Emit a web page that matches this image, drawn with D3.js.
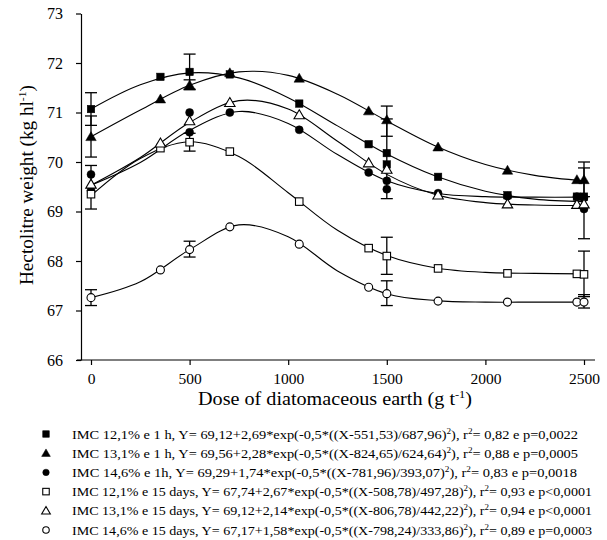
<!DOCTYPE html>
<html>
<head>
<meta charset="utf-8">
<script src="https://cdn.jsdelivr.net/npm/d3@7"></script>
<style>
  body { margin: 0; background: #fff; }
  svg text { font-family: "Liberation Serif", "DejaVu Serif", serif; fill: #000; }
</style>
</head>
<body>
<svg id="chart" width="607" height="540"></svg>
<script>
// fitted curve samples
let curve_x = [0, 250, 500, 750, 1000, 1250, 1500, 1750, 2000, 2250, 2500];
let curve_sq_1h   = [71.07, 71.56, 71.80, 71.70, 71.30, 70.73, 70.16, 69.71, 69.41, 69.25, 69.20];
let curve_tri_1h  = [70.51, 71.05, 71.55, 71.82, 71.75, 71.37, 70.83, 70.32, 69.95, 69.73, 69.62];
let curve_cir_1h  = [69.53, 69.99, 70.64, 71.02, 70.78, 70.15, 69.62, 69.37, 69.30, 69.29, 69.29];
let curve_sq_15d  = [69.32, 70.07, 70.41, 70.11, 69.38, 68.62, 68.11, 67.86, 67.77, 67.75, 67.74];
let curve_tri_15d = [69.53, 70.09, 70.80, 71.24, 71.07, 70.42, 69.75, 69.34, 69.18, 69.13, 69.12];
let curve_cir_15d = [67.26, 67.58, 68.23, 68.73, 68.49, 67.80, 67.34, 67.20, 67.17, 67.17, 67.17];

// plotted symbols, [dose, value]
let pts_sq_1h   = [[0,71.07],[352,71.72],[500,71.82],[704,71.77],[1056,71.18],[1408,70.36],[1500,70.18],[1500,69.95],[1760,69.70],[2112,69.33],[2464,69.30],[2500,69.30]];
let pts_tri_1h  = [[0,70.51],[352,71.27],[500,71.55],[704,71.80],[1056,71.69],[1408,71.03],[1500,70.85],[1760,70.30],[2112,69.83],[2464,69.64],[2500,69.64]];
let pts_cir_1h  = [[0,69.75],[0,69.42],[500,71.00],[500,70.60],[704,71.00],[1056,70.65],[1408,69.79],[1500,69.62],[1500,69.45],[1760,69.37],[2112,69.31],[2464,69.30],[2500,69.28],[2500,69.05]];
let pts_sq_15d  = [[0,69.35],[352,70.28],[500,70.40],[704,70.21],[1056,69.20],[1408,68.26],[1500,68.10],[1760,67.85],[2112,67.75],[2464,67.74],[2500,67.73]];
let pts_tri_15d = [[0,69.55],[352,70.38],[500,70.83],[704,71.20],[1056,70.95],[1408,69.98],[1500,69.85],[1760,69.33],[2112,69.15],[2464,69.14],[2500,69.15]];
let pts_cir_15d = [[0,67.26],[352,67.82],[500,68.23],[704,68.69],[1056,68.34],[1408,67.47],[1500,67.34],[1760,67.19],[2112,67.17],[2464,67.17],[2500,67.17]];

// error bars, [dose, low, high]
let err_bars = [
  [0, 70.74, 71.40], [0, 70.10, 70.93], [0, 69.05, 69.93], [0, 67.10, 67.42],
  [500, 71.46, 72.18], [500, 71.47, 71.66], [500, 70.22, 70.58], [500, 68.08, 68.40],
  [1500, 70.52, 71.13], [1500, 69.26, 70.87], [1500, 67.73, 68.48], [1500, 67.10, 67.60],
  [2500, 69.30, 70.00], [2500, 68.45, 69.88], [2500, 67.28, 68.20], [2500, 67.05, 67.32]
];

let x_ticks = [0, 500, 1000, 1500, 2000, 2500];
let y_ticks = [66, 67, 68, 69, 70, 71, 72, 73];

let legend_labels = [
  ["IMC 12,1% e 1 h, Y= 69,12+2,69*exp(-0,5*((X-551,53)/687,96)", "), r", "= 0,82 e p=0,0022"],
  ["IMC 13,1% e 1 h, Y= 69,56+2,28*exp(-0,5*((X-824,65)/624,64)", "), r", "= 0,88 e p=0,0005"],
  ["IMC 14,6% e 1h, Y= 69,29+1,74*exp(-0,5*((X-781,96)/393,07)", "), r", "= 0,83 e p=0,0018"],
  ["IMC 12,1% e 15 days, Y= 67,74+2,67*exp(-0,5*((X-508,78)/497,28)", "), r", "= 0,93 e p<0,0001"],
  ["IMC 13,1% e 15 days, Y= 69,12+2,14*exp(-0,5*((X-806,78)/442,22)", "), r", "= 0,94 e p<0,0001"],
  ["IMC 14,6% e 15 days, Y= 67,17+1,58*exp(-0,5*((X-798,24)/333,86)", "), r", "= 0,89 e p=0,0003"]
];
let legend_widths = [506, 506, 505, 520, 520, 520];

let series = [
  { curve: curve_sq_1h,   pts: pts_sq_1h,   shape: "square",   filled: true },
  { curve: curve_tri_1h,  pts: pts_tri_1h,  shape: "triangle", filled: true },
  { curve: curve_cir_1h,  pts: pts_cir_1h,  shape: "circle",   filled: true },
  { curve: curve_sq_15d,  pts: pts_sq_15d,  shape: "square",   filled: false },
  { curve: curve_tri_15d, pts: pts_tri_15d, shape: "triangle", filled: false },
  { curve: curve_cir_15d, pts: pts_cir_15d, shape: "circle",   filled: false }
];

let svg = d3.select("#chart");
let x = d3.scaleLinear().domain([0, 2500]).range([91, 584]);
let y = d3.scaleLinear().domain([66, 73]).range([360, 13.5]);

// axes
let xAxis = svg.append("g").attr("transform", "translate(0,360)")
  .call(d3.axisBottom(x).tickValues(x_ticks).tickFormat(d3.format("d"))
    .tickSize(5).tickPadding(5).tickSizeOuter(0));
xAxis.select(".domain").attr("d", "M77,0H595");
xAxis.selectAll("text").style("font-size", "15.5px").attr("dy", "0.9em");

let yAxis = svg.append("g").attr("transform", "translate(81,0)")
  .call(d3.axisLeft(y).tickValues(y_ticks).tickFormat(d3.format("d"))
    .tickSize(5).tickPadding(13).tickSizeOuter(0));
yAxis.selectAll("text").style("font-size", "16px");
svg.selectAll(".domain, .tick line").attr("stroke", "#000").attr("stroke-width", 1.2);

// axis titles
let yt = svg.append("text")
  .attr("transform", "translate(33,185) rotate(-90)")
  .attr("text-anchor", "middle")
  .attr("textLength", 200).attr("lengthAdjust", "spacingAndGlyphs")
  .style("font-size", "18px");
yt.append("tspan").text("Hectolitre weight (kg hl");
yt.append("tspan").attr("dy", -7).style("font-size", "11px").text("-1");
yt.append("tspan").attr("dy", 7).text(")");

let xt = svg.append("text")
  .attr("x", 335).attr("y", 405)
  .attr("text-anchor", "middle")
  .attr("textLength", 274).attr("lengthAdjust", "spacingAndGlyphs")
  .style("font-size", "18px");
xt.append("tspan").text("Dose of diatomaceous earth (g t");
xt.append("tspan").attr("dy", -7).style("font-size", "11px").text("-1");
xt.append("tspan").attr("dy", 7).text(")");

// draw a symbol at px,py
function drawMarker(g, shape, filled, px, py, size) {
  let fill = filled ? "#000" : "#fff";
  let m;
  if(shape == "square") {
    m = g.append("rect").attr("x", px - size/2).attr("y", py - size/2)
      .attr("width", size).attr("height", size);
  } else if(shape == "triangle") {
    let h = size * 0.95;
    m = g.append("path").attr("d", "M" + px + "," + (py - h*0.6)
      + "L" + (px + size*0.58) + "," + (py + h*0.45)
      + "L" + (px - size*0.58) + "," + (py + h*0.45) + "Z");
  } else {
    m = g.append("circle").attr("cx", px).attr("cy", py).attr("r", size/2);
  }
  m.attr("fill", fill).attr("stroke", "#000").attr("stroke-width", filled ? 0.5 : 1.1);
}

// fitted lines
let line = d3.line()
  .x((d, i) => x(curve_x[i]))
  .y(d => y(d))
  .curve(d3.curveCatmullRom.alpha(0.5));
for(let s of series) {
  svg.append("path").attr("d", line(s.curve))
    .attr("fill", "none").attr("stroke", "#000").attr("stroke-width", 1.1);
}

// error bars
let eb = svg.append("g").attr("stroke", "#000").attr("stroke-width", 1.3);
for(let e of err_bars) {
  let cx = x(e[0]);
  eb.append("line").attr("x1", cx).attr("x2", cx).attr("y1", y(e[1])).attr("y2", y(e[2]));
  eb.append("line").attr("x1", cx - 6).attr("x2", cx + 6).attr("y1", y(e[1])).attr("y2", y(e[1]));
  eb.append("line").attr("x1", cx - 6).attr("x2", cx + 6).attr("y1", y(e[2])).attr("y2", y(e[2]));
}

// symbols
let mk = svg.append("g");
for(let s of series) {
  let size = s.shape == "triangle" ? 9 : (s.shape == "square" ? 7.5 : 8);
  for(let p of s.pts) drawMarker(mk, s.shape, s.filled, x(p[0]), y(p[1]), size);
}

// legend
let lg = svg.append("g");
legend_labels.forEach((lab, i) => {
  let ly = 434 + i * 19.2;
  let s = series[i];
  drawMarker(lg, s.shape, s.filled, 46, ly, s.shape == "triangle" ? 7.5 : 6.5);
  let t = lg.append("text").attr("x", 72).attr("y", ly + 4.5)
    .style("font-size", "12.5px")
    .attr("textLength", legend_widths[i]).attr("lengthAdjust", "spacingAndGlyphs");
  t.append("tspan").text(lab[0]);
  t.append("tspan").attr("dy", -5).style("font-size", "8px").text("2");
  t.append("tspan").attr("dy", 5).text(lab[1]);
  t.append("tspan").attr("dy", -5).style("font-size", "8px").text("2");
  t.append("tspan").attr("dy", 5).text(lab[2]);
});
</script>
</body>
</html>
